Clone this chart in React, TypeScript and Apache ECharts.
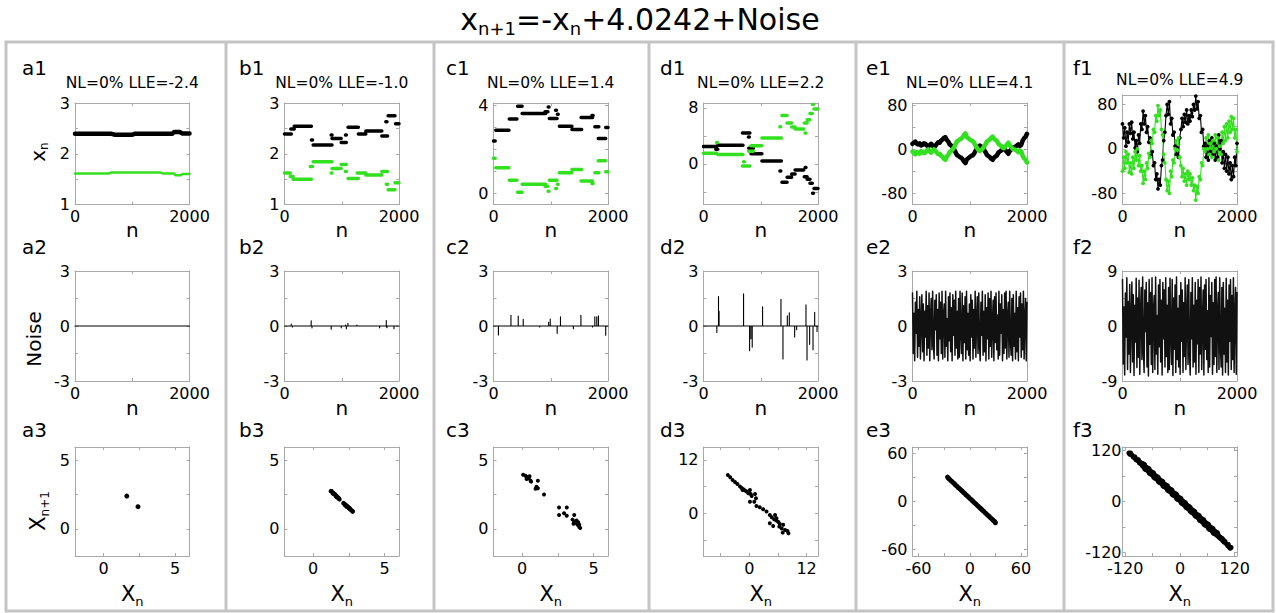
import React, { useEffect, useRef } from 'react';
import * as echarts from 'echarts';

// ================= DATA =================
const TITLE_TEXT = 'x{s|n+1}=-x{s|n}+4.0242+Noise';
const SUBTITLES = ['NL=0% LLE=-2.4', 'NL=0% LLE=-1.0', 'NL=0% LLE=1.4', 'NL=0% LLE=2.2', 'NL=0% LLE=4.1', 'NL=0% LLE=4.9'];
const COL_KEYS = ['a', 'b', 'c', 'd', 'e', 'f'];

// tick values / tick labels
const TS_X_TICKS = [0, 1000, 2000];
const TS_X_LABELS = [0, 2000];
const A1_Y_TICKS = [1, 1.5, 2, 2.5, 3];
const A1_Y_LABELS = [1, 2, 3];
const C1_Y_TICKS = [0, 1, 2, 3, 4];
const C1_Y_LABELS = [0, 4];
const D1_Y_TICKS = [-4, 0, 4, 8];
const D1_Y_LABELS = [0, 8];
const E1_Y_TICKS = [-80, -40, 0, 40, 80];
const E1_Y_LABELS = [-80, 0, 80];
const NOISE_Y_TICKS = [-3, -1.5, 0, 1.5, 3];
const NOISE_Y_LABELS = [-3, 0, 3];
const F2_Y_TICKS = [-9, -4.5, 0, 4.5, 9];
const F2_Y_LABELS = [-9, 0, 9];
const MAP_TICKS = [0, 2.5, 5];
const MAP_LABELS = [0, 5];
const D3_TICKS = [-6, 0, 6, 12];
const D3_LABELS = [0, 12];
const E3_TICKS = [-60, -30, 0, 30, 60];
const E3_LABELS = [-60, 0, 60];
const F3_TICKS = [-120, -60, 0, 60, 120];
const F3_LABELS = [-120, 0, 120];

// row 1 : time series  ([n, value] or runs [nStart, nEnd, value])
const a1Black = [[0, 2.393], [640, 2.393], [700, 2.375], [1000, 2.375], [1040, 2.393], [1700, 2.393], [1730, 2.428], [1830, 2.428], [1870, 2.40], [2000, 2.40]];
const a1Green = [[0, 1.613], [600, 1.613], [640, 1.633], [1480, 1.633], [1540, 1.612], [1730, 1.612], [1760, 1.575], [1850, 1.578], [1880, 1.60], [2000, 1.60]];

const b1BlackRuns = [[0, 120, 2.39], [110, 170, 2.49], [170, 470, 2.54], [470, 490, 2.27], [500, 830, 2.17], [815, 830, 2.37], [830, 990, 2.30], [990, 1080, 2.22], [1065, 1080, 2.37], [1110, 1290, 2.52], [1290, 1420, 2.39], [1420, 1700, 2.45], [1700, 1800, 2.35], [1770, 1790, 2.63], [1810, 1930, 2.75], [1940, 2000, 2.59]];
const b1GreenRuns = [[0, 100, 1.62], [100, 150, 1.55], [150, 470, 1.50], [450, 490, 1.75], [500, 830, 1.84], [815, 830, 1.62], [830, 990, 1.71], [990, 1080, 1.79], [1065, 1080, 1.65], [1110, 1290, 1.51], [1270, 1420, 1.62], [1420, 1700, 1.58], [1700, 1800, 1.65], [1780, 1800, 1.40], [1810, 1930, 1.29], [1930, 2000, 1.43]];

const c1BlackRuns = [[0, 30, 2.38], [40, 270, 2.87], [275, 410, 3.38], [420, 500, 3.95], [500, 910, 3.62], [900, 950, 3.70], [955, 970, 3.92], [975, 1110, 3.40], [1085, 1100, 3.77], [1115, 1130, 3.59], [1150, 1370, 3.05], [1370, 1540, 2.90], [1530, 1730, 3.44], [1720, 1740, 3.53], [1770, 1840, 3.02], [1830, 1960, 2.49], [1960, 2000, 2.99]];
const c1GreenRuns = [[0, 30, 1.60], [40, 270, 1.16], [275, 410, 0.60], [420, 500, 0.06], [500, 910, 0.42], [900, 950, 0.33], [955, 970, 0.10], [975, 1110, 0.60], [1085, 1100, 0.23], [1115, 1130, 0.42], [1150, 1370, 0.94], [1370, 1540, 1.09], [1530, 1730, 0.57], [1720, 1740, 0.45], [1770, 1840, 0.94], [1830, 1960, 1.48], [1960, 2000, 0.98]];

const d1BlackRuns = [[0, 230, 2.49], [215, 250, 2.10], [230, 240, 1.15], [250, 690, 2.68], [680, 810, 4.40], [785, 800, 3.83], [790, 870, 2.25], [830, 1020, 1.44], [1020, 1360, 0.43], [1335, 1350, -1.00], [1370, 1460, -2.63], [1460, 1540, -1.92], [1540, 1600, -1.44], [1600, 1750, -0.86], [1775, 1790, -0.53], [1760, 1810, -1.82], [1810, 1860, -2.20], [1860, 1900, -2.78], [1905, 1920, -4.20], [1930, 2000, -3.50]];
const d1GreenRuns = [[0, 230, 1.53], [230, 245, 3.07], [250, 690, 1.34], [680, 810, -0.29], [700, 715, 0.30], [790, 870, 1.80], [830, 1020, 2.59], [1020, 1360, 3.69], [1335, 1350, 5.30], [1370, 1460, 6.90], [1460, 1540, 5.84], [1540, 1600, 5.27], [1600, 1750, 4.98], [1775, 1790, 4.40], [1760, 1810, 5.84], [1810, 1860, 6.30], [1860, 1900, 7.20], [1905, 1920, 8.50], [1930, 2000, 7.86]];

// e1: values every 25 steps of n (0..2000)
const e1Black = [10, 12, 14, 10, 9, 11, 7, 8, 11, 10, 7, 5, 8, 10, 7, 4, 6, 10, 13, 12, 16, 18, 21, 22, 17, 14, 9, 7, 4, 1, -5, -10, -12, -14, -15, -18, -22, -25, -18, -16, -14, -12, -11, -8, -3, 1, 5, 7, 5, 3, -1, -5, -10, -12, -14, -17, -19, -15, -13, -11, -6, -4, -2, 1, 2, -2, -5, -8, -3, 0, 3, 4, 5, 7, 9, 6, 8, 16, 20, 23, 28];
const e1Green = [-4, -7, -9, -5, -6, -8, -3, -5, -7, -6, -2, 0, -4, -6, -3, 0, -2, -6, -9, -8, -12, -14, -17, -19, -13, -10, -5, -3, 0, 3, 9, 14, 16, 18, 19, 22, 26, 29, 22, 20, 18, 16, 15, 12, 7, 3, -1, -3, -1, 1, 5, 9, 14, 16, 18, 21, 23, 19, 17, 15, 10, 8, 6, 3, 2, 6, 9, 12, 7, 4, 1, 0, -1, -3, -5, -2, -4, -12, -16, -19, -24];

// f1: values every 20 steps of n (0..2000)
const f1Black = [45, 20, 38, 5, 30, 12, 45, 28, 48, 18, 30, 2, 15, -5, 25, 10, 45, 35, 68, 45, 60, 30, 40, 12, 20, -10, -5, -30, -25, -55, -45, -72, -55, -65, -30, -20, 15, 30, 60, 80, 62, 85, 45, 55, 25, 30, 5, -10, 2, -15, 20, 35, 55, 40, 62, 48, 70, 45, 60, 50, 70, 58, 80, 70, 95, 72, 85, 55, 60, 30, 35, 5, 10, -15, 5, -20, 15, -5, 20, -10, 10, -20, 5, -15, 25, 0, 15, -25, -5, -35, -10, -40, -15, -45, -25, -55, -30, -50, -15, -30, 10];
const f1Green = [-40, -15, -35, -5, -25, -10, -42, -25, -45, -15, -35, -5, -20, 0, -30, -12, -40, -30, -62, -40, -55, -25, -35, -8, -15, 15, 10, 35, 30, 60, 50, 78, 60, 70, 35, 25, -10, -25, -55, -75, -58, -80, -40, -50, -20, -25, 0, 15, -2, 20, -15, -30, -50, -35, -58, -45, -65, -40, -55, -45, -65, -52, -75, -65, -92, -68, -80, -50, -55, -25, -30, 0, -5, 20, 0, 25, -10, 10, -15, 15, -5, 25, 0, 20, -20, 5, -10, 30, 10, 40, 15, 45, 20, 50, 30, 58, 35, 55, 20, 35, -5];

// row 2 : noise spikes (n, value)
const a2SpikeN: number[] = [];
const a2SpikeV: number[] = [];
const b2SpikeN = [117, 140, 466, 480, 816, 991, 1067, 1080, 1108, 1265, 1661, 1778, 1790, 1912];
const b2SpikeV = [0.1, -0.05, 0.29, -0.1, -0.18, -0.1, 0.05, -0.15, 0.15, 0.05, -0.1, 0.3, -0.1, -0.15];
const c2SpikeN = [86, 305, 432, 519, 807, 963, 991, 1112, 1170, 1395, 1527, 1729, 1770, 1804, 1833, 1960];
const c2SpikeV = [-0.49, 0.58, 0.54, 0.36, -0.05, 0.2, 0.38, -0.4, 0.5, -0.15, 0.58, -0.05, 0.5, 0.5, 0.55, -0.5];
const d2SpikeN = [233, 262, 272, 700, 805, 828, 851, 1032, 1353, 1388, 1464, 1499, 1592, 1627, 1790, 1808, 1854, 1913, 1942, 1983];
const d2SpikeV = [-0.35, 1.6, 0.8, 1.75, -1.35, -0.7, -1.15, 1.05, 1.45, -1.8, 0.55, 0.72, -0.6, -0.2, 1.15, -1.85, -1.0, -1.3, 0.75, -0.3];
// dense noise (evenly spread over n = 0..2000)
const e2Noise = [1.8, -1.5, 0.7, -1.9, 1.3, -0.4, 1.9, -1.7, 0.9, -1.1, 1.6, -1.8, 0.3, 1.7, -1.4, 1.2, -1.9, 0.8, -0.6, 1.9,
  -1.6, 1.1, -1.2, 1.8, -1.9, 0.5, 1.5, -1.3, 1.9, -0.9, -1.8, 1.4, -0.2, 1.7, -1.6, 0.9, -1.9, 1.8, -0.7, 1.3,
  -1.5, 1.9, -1.8, 0.6, 1.2, -1.7, 1.9, -1.1, 0.4, -1.9, 1.6, -0.8, 1.8, -1.4, 1.0, -1.9, 1.7, -0.5, 1.4, -1.6,
  1.9, -1.2, 0.8, -1.8, 1.5, -1.7, 1.9, -0.3, -1.5, 1.8, -1.9, 1.1, -0.9, 1.6, -1.8, 1.9, -1.3, 0.7, -1.6, 1.2,
  -1.9, 1.7, -0.6, 1.4, -1.8, 0.9, -1.2, 1.9, -1.7, 0.4, 1.6, -1.5, 1.8, -1.0, -1.9, 1.3, -0.5, 1.9, -1.6, 0.8,
  -1.4, 1.7, -1.9, 1.0, -0.7, 1.8, -1.8, 1.5, -1.1, 1.9, -1.7, 0.2, 1.4, -1.9, 1.6, -0.9, 1.8, -1.3, 0.6, -1.8,
  1.9, -1.6, 1.2, -0.4, 1.7, -1.9, 0.9, -1.5, 1.8, -1.2, 1.9, -1.8, 0.5, 1.3, -1.7, 1.9, -0.8, -1.6, 1.5, -1.9,
  1.7, -1.1, 0.7, -1.8, 1.9, -1.4, 1.0, -1.9, 1.6, -0.6, 1.8, -1.7, 1.2, -1.3, 1.9, -1.8, 0.4, 1.5, -1.9, 1.3];
const f2Noise = [7.6, -6.2, 3.1, -8.0, 5.4, -1.8, 7.9, -7.1, 4.0, -4.6, 6.8, -7.6, 1.2, 7.2, -5.9, 5.1, -8.1, 3.4, -2.6, 7.8,
  -6.8, 4.6, -5.1, 7.5, -7.9, 2.1, 6.3, -5.5, 8.0, -3.8, -7.6, 5.9, -0.9, 7.1, -6.7, 3.8, -8.2, 7.6, -3.0, 5.5,
  -6.3, 7.9, -7.6, 2.5, 5.0, -7.1, 8.0, -4.6, 1.7, -7.9, 6.7, -3.4, 7.6, -5.9, 4.2, -8.0, 7.1, -2.1, 5.9, -6.7,
  7.9, -5.0, 3.4, -7.6, 6.3, -7.1, 7.8, -1.3, -6.3, 7.6, -8.1, 4.6, -3.8, 6.7, -7.6, 8.0, -5.5, 2.9, -6.7, 5.0,
  -7.9, 7.1, -2.5, 5.9, -7.6, 3.8, -5.0, 7.9, -7.1, 1.7, 6.7, -6.3, 7.6, -4.2, -8.0, 5.5, -2.1, 7.9, -6.7, 3.4,
  -5.9, 7.1, -7.9, 4.2, -2.9, 7.6, -7.6, 6.3, -4.6, 8.0, -7.1, 0.8, 5.9, -8.0, 6.7, -3.8, 7.6, -5.5, 2.5, -7.6,
  7.9, -6.7, 5.0, -1.7, 7.1, -7.9, 3.8, -6.3, 7.6, -5.0, 8.0, -7.6, 2.1, 5.5, -7.1, 7.9, -3.4, -6.7, 6.3, -8.0,
  7.1, -4.6, 2.9, -7.6, 7.8, -5.9, 4.2, -8.0, 6.7, -2.5, 7.6, -7.1, 5.0, -5.5, 7.9, -7.6, 1.7, 6.3, -7.9, 5.5];

// row 3 : return maps [x_n, x_n+1]
const a3Points = [[1.62, 2.40], [2.40, 1.62]];
const b3Points = [[1.62, 2.39], [2.39, 1.62], [1.55, 2.49], [2.49, 1.55], [1.50, 2.54], [2.54, 1.50], [1.75, 2.27], [2.27, 1.75], [1.84, 2.17], [2.17, 1.84], [1.62, 2.37], [2.37, 1.62], [1.71, 2.30], [2.30, 1.71], [1.79, 2.22], [2.22, 1.79], [1.65, 2.37], [2.37, 1.65], [1.51, 2.52], [2.52, 1.51], [1.58, 2.45], [2.45, 1.58], [1.65, 2.35], [2.35, 1.65], [1.40, 2.63], [2.63, 1.40], [1.29, 2.75], [2.75, 1.29], [1.43, 2.59], [2.59, 1.43], [1.24, 2.76], [2.76, 1.27], [1.38, 2.60], [1.66, 2.36], [2.12, 1.88], [2.24, 1.73]];
const c3Points = [[0.07, 3.97], [0.23, 3.89], [0.35, 3.80], [0.31, 3.65], [0.47, 3.70], [0.59, 3.53], [0.63, 3.46], [0.52, 3.85], [1.10, 3.53], [1.00, 3.08], [1.10, 2.98], [0.94, 2.93], [1.53, 2.52], [2.58, 1.56], [3.12, 1.56], [2.58, 1.01], [2.93, 1.13], [3.12, 0.96], [3.64, 1.01], [3.52, 0.67], [3.64, 0.53], [3.76, 0.43], [3.87, 0.29], [3.99, 0.12], [3.80, 0.60], [3.59, 0.36], [3.92, 0.48], [3.99, 0.29], [4.06, 0.05]];
const d3Points = [[-4.5, 8.6], [-4.0, 8.1], [-3.5, 7.5], [-3.0, 7.05], [-2.5, 6.6], [-1.95, 6.0], [-1.6, 5.7], [-1.25, 5.4], [-0.9, 5.1], [-0.55, 4.9], [-1.4, 5.25], [-0.2, 4.5], [0.14, 5.25], [0.28, 4.35], [0.5, 3.9], [0.14, 2.6], [1.2, 4.35], [1.4, 3.4], [1.05, 2.6], [1.5, 1.65], [2.2, 1.35], [2.9, 0.9], [3.6, 0.4], [4.3, -0.4], [4.7, -0.9], [5.2, -1.35], [5.4, -0.4], [5.7, -1.65], [6.1, -1.95], [6.4, -2.4], [4.3, -2.25], [5.0, -2.85], [6.3, -3.0], [6.8, -3.4], [7.0, -4.35], [7.5, -3.75], [8.0, -4.0], [8.2, -4.5], [5.7, -1.1], [7.1, -2.6]];
const e3Points = [[-26, 30.5], [-25, 29], [-24, 28.3], [-22.5, 26.4], [-21, 25.2], [-19.5, 23.6], [-18, 22.1], [-16.5, 20.4], [-15, 19.2], [-13.5, 17.3], [-12, 16.1], [-10.5, 14.6], [-9, 13.1], [-7.5, 11.4], [-6, 10.2], [-4.5, 8.4], [-3, 7.1], [-1.5, 5.6], [0, 3.9], [1.5, 2.6], [3, 0.9], [4.5, -0.4], [6, -2.1], [7.5, -3.4], [9, -5.1], [10.5, -6.4], [12, -8.1], [13.5, -9.4], [15, -11.1], [16.5, -12.4], [18, -14.1], [19.5, -15.4], [21, -17.1], [22.5, -18.4], [24, -20.1], [25.5, -21.4], [27, -23.1], [28.5, -24.4], [29.5, -25.6], [30, -26.5]];
const f3Core = [[-80, 85], [-75, 78], [-70, 75], [-65, 68], [-60, 65], [-55, 58], [-50, 55], [-45, 48], [-40, 45], [-35, 38], [-30, 35], [-25, 28], [-20, 25], [-15, 18], [-10, 15], [-5, 8], [0, 5], [5, -2], [10, -5], [15, -12], [20, -15], [25, -22], [30, -25], [35, -32], [40, -35], [45, -42], [50, -45], [55, -52], [60, -55], [65, -62], [70, -65], [75, -72], [80, -75]];
const f3Mid = [[-100, 104], [-96, 99], [-92, 97], [-88, 91], [-84, 89], [84, -81], [88, -85], [92, -88], [95, -92], [98, -95]];
const f3Edge = [[-112, 114], [-110, 111], [-108, 114], [-106, 110], [-103, 105], [102, -100], [105, -104], [106, -101], [108, -107], [110, -110], [112, -108]];

// ================= STYLE / LAYOUT =================
const FONT = 'DejaVu Sans';
const BLACK = '#000000';
const GREEN = '#33e01f';
const AXIS = '#a8a8a8';
const FRAME = '#c4c4c4';
const LEFTS = [75, 284.5, 493.5, 703.5, 912.5, 1122.5];
const LABEL_X = [22, 239, 446, 660, 866, 1073];
const PW = 114.5;

function runsData(runs: number[][]) {
  const out: any[] = [];
  runs.forEach(([s, e, v]) => { out.push([s, v], [e, v], [e, '-']); });
  return out;
}
function spikesData(ns: number[], vs: number[]) {
  const out: any[] = [[0, 0]];
  ns.forEach((n, i) => { out.push([n, 0], [n, vs[i]], [n, 0]); });
  out.push([2000, 0]);
  return out;
}
function seqData(vals: number[]) {
  return vals.map((v, i) => [(i * 2000) / (vals.length - 1), v]);
}
function line(data: any[], color: string, width: number) {
  return { type: 'line', data, symbol: 'none', showSymbol: false, connectNulls: false, silent: true,
    lineStyle: { color, width, cap: 'round', join: 'round' } };
}
function dotLine(data: any[], color: string) {
  return { type: 'line', data, symbol: 'circle', symbolSize: 3.8, showSymbol: true, silent: true,
    itemStyle: { color, opacity: 1 }, lineStyle: { color, width: 1.1 } };
}
function scatter(data: any[], size: number) {
  return { type: 'scatter', data, symbolSize: size, silent: true, itemStyle: { color: BLACK, opacity: 1 } };
}

type Panel = {
  left: number; top: number; height: number;
  x: [number, number]; xt: number[]; xl: number[];
  y: [number, number]; yt: number[]; yl: number[];
  ylm?: number;
  series: any[];
};

function buildOption() {
  const R1T = 103, R1H = 101.5, R2T = 271, R2H = 110, R3T = 447, R3H = 109;
  const ts = (i: number, y: [number, number], yt: number[], yl: number[], series: any[], top = R1T, h = R1H): Panel =>
    ({ left: LEFTS[i], top, height: h, x: [0, 2000], xt: TS_X_TICKS, xl: TS_X_LABELS, y, yt, yl, series });
  const panels: Panel[] = [
    ts(0, [1, 3], A1_Y_TICKS, A1_Y_LABELS, [line(a1Black, BLACK, 4.5), line(a1Green, GREEN, 2.5)]),
    ts(1, [1, 3], A1_Y_TICKS, A1_Y_LABELS, [line(runsData(b1BlackRuns), BLACK, 3.5), line(runsData(b1GreenRuns), GREEN, 3.5)]),
    ts(2, [-0.5, 4.1], C1_Y_TICKS, C1_Y_LABELS, [line(runsData(c1BlackRuns), BLACK, 3.5), line(runsData(c1GreenRuns), GREEN, 3.5)]),
    ts(3, [-5.8, 8.7], D1_Y_TICKS, D1_Y_LABELS, [line(runsData(d1BlackRuns), BLACK, 3.5), line(runsData(d1GreenRuns), GREEN, 3.5)]),
    ts(4, [-100, 84], E1_Y_TICKS, E1_Y_LABELS, [line(seqData(e1Black), BLACK, 4.5), line(seqData(e1Green), GREEN, 4.5)]),
    ts(5, [-100, 97], E1_Y_TICKS, E1_Y_LABELS, [dotLine(seqData(f1Black), BLACK), dotLine(seqData(f1Green), GREEN)], 95, 109.5),
    ts(0, [-3, 3], NOISE_Y_TICKS, NOISE_Y_LABELS, [line(spikesData(a2SpikeN, a2SpikeV), BLACK, 1.2)], R2T, R2H),
    ts(1, [-3, 3], NOISE_Y_TICKS, NOISE_Y_LABELS, [line(spikesData(b2SpikeN, b2SpikeV), BLACK, 1.1)], R2T, R2H),
    ts(2, [-3, 3], NOISE_Y_TICKS, NOISE_Y_LABELS, [line(spikesData(c2SpikeN, c2SpikeV), BLACK, 1.1)], R2T, R2H),
    ts(3, [-3, 3], NOISE_Y_TICKS, NOISE_Y_LABELS, [line(spikesData(d2SpikeN, d2SpikeV), BLACK, 1.1)], R2T, R2H),
    ts(4, [-3, 3], NOISE_Y_TICKS, NOISE_Y_LABELS, [line(seqData(e2Noise), '#111111', 1.5)], R2T, R2H),
    ts(5, [-9, 9], F2_Y_TICKS, F2_Y_LABELS, [line(seqData(f2Noise), '#111111', 1.5)], R2T, R2H),
    { left: LEFTS[0], top: R3T, height: R3H, x: [-2, 6], xt: MAP_TICKS, xl: MAP_LABELS, y: [-2, 6], yt: MAP_TICKS, yl: MAP_LABELS, series: [scatter(a3Points, 5)] },
    { left: LEFTS[1], top: R3T, height: R3H, x: [-2, 6], xt: MAP_TICKS, xl: MAP_LABELS, y: [-2, 6], yt: MAP_TICKS, yl: MAP_LABELS, series: [scatter(b3Points, 4.5)] },
    { left: LEFTS[2], top: R3T, height: R3H, x: [-2, 6], xt: MAP_TICKS, xl: MAP_LABELS, y: [-2, 6], yt: MAP_TICKS, yl: MAP_LABELS, series: [scatter(c3Points, 4)] },
    { left: LEFTS[3], top: R3T, height: R3H, x: [-9.6, 14.4], xt: D3_TICKS, xl: D3_LABELS, y: [-9.6, 14.9], yt: D3_TICKS, yl: D3_LABELS, series: [scatter(d3Points, 4)] },
    { left: LEFTS[4], top: R3T, height: R3H, x: [-67, 67], xt: E3_TICKS, xl: E3_LABELS, y: [-68, 68], yt: E3_TICKS, yl: E3_LABELS, series: [scatter(e3Points, 5)] },
    { left: LEFTS[5], top: R3T, height: R3H, x: [-126, 125], xt: F3_TICKS, xl: F3_LABELS, y: [-128, 128], yt: F3_TICKS, yl: F3_LABELS, ylm: 1,
      series: [scatter(f3Core, 7.5), scatter(f3Mid, 6), scatter(f3Edge, 5)] },
  ];

  const grid: any[] = [], xAxis: any[] = [], yAxis: any[] = [], series: any[] = [];
  const axisLine = { show: true, onZero: false, lineStyle: { color: AXIS, width: 1 } };
  const tick = (vals: number[]) => ({ show: true, inside: true, length: 3, customValues: vals, lineStyle: { color: AXIS, width: 1 } });
  const label = (vals: number[], margin: number) => ({ show: true, customValues: vals, color: BLACK, fontFamily: FONT, fontSize: 16, margin,
    formatter: (v: number) => String(v) });
  panels.forEach((p, i) => {
    grid.push({ left: p.left, top: p.top, width: PW, height: p.height, containLabel: false });
    const base = { type: 'value', gridIndex: i, splitLine: { show: false }, axisLine, silent: true };
    xAxis.push({ ...base, position: 'bottom', min: p.x[0], max: p.x[1], axisTick: tick(p.xt), axisLabel: label(p.xl, 4) });
    xAxis.push({ ...base, position: 'top', min: p.x[0], max: p.x[1], axisTick: tick(p.xt), axisLabel: { show: false } });
    yAxis.push({ ...base, position: 'left', min: p.y[0], max: p.y[1], axisTick: tick(p.yt), axisLabel: label(p.yl, p.ylm ?? 5) });
    yAxis.push({ ...base, position: 'right', min: p.y[0], max: p.y[1], axisTick: tick(p.yt), axisLabel: { show: false } });
    p.series.forEach((s) => series.push({ ...s, xAxisIndex: 2 * i, yAxisIndex: 2 * i }));
  });

  const txt = (x: number, y: number, text: string, size: number, align = 'center', extra: any = {}) => ({
    type: 'text', x, y, silent: true, ...extra,
    style: { text, fill: BLACK, fontFamily: FONT, fontSize: size, align, textAlign: align, verticalAlign: 'middle', textVerticalAlign: 'middle', ...(extra.style || {}) },
  });
  const graphic: any[] = [];
  graphic.push({ type: 'rect', silent: true, shape: { x: 6, y: 42, width: 1267, height: 569 }, style: { fill: 'none', stroke: FRAME, lineWidth: 3 } });
  [226, 434, 649, 856, 1064].forEach((x) => graphic.push({ type: 'line', silent: true, shape: { x1: x, y1: 42, x2: x, y2: 611 }, style: { stroke: FRAME, lineWidth: 3 } }));
  graphic.push(txt(640, 19, TITLE_TEXT, 30, 'center', { style: { rich: { s: { fontSize: 18, fontFamily: FONT, fill: BLACK, padding: [18, 0, 0, 0] } } } }));
  SUBTITLES.forEach((s, i) => graphic.push(txt(LEFTS[i] + PW / 2, i === 5 ? 80 : 83, s, 15.5)));
  COL_KEYS.forEach((k, i) => {
    graphic.push(txt(LABEL_X[i], 68, k + '1', 20, 'left'));
    graphic.push(txt(LABEL_X[i], 247, k + '2', 20, 'left'));
    graphic.push(txt(LABEL_X[i], 430, k + '3', 20, 'left'));
    const cx = LEFTS[i] + PW / 2;
    graphic.push(txt(cx, 230, 'n', 20));
    graphic.push(txt(cx, 408, 'n', 20));
    graphic.push(txt(cx, 594, 'X{s|n}', 21, 'center', { style: { rich: { s: { fontSize: 13, fontFamily: FONT, fill: BLACK, padding: [14, 0, 0, 0] } } } }));
  });
  graphic.push(txt(38, 152, 'x{s|n}', 20, 'center', { rotation: Math.PI / 2, style: { rich: { s: { fontSize: 12, fontFamily: FONT, fill: BLACK, padding: [12, 0, 0, 0] } } } }));
  graphic.push(txt(34, 339, 'Noise', 20, 'center', { rotation: Math.PI / 2 }));
  graphic.push(txt(38, 511, 'X{s|n+1}', 21, 'center', { rotation: Math.PI / 2, style: { rich: { s: { fontSize: 12, fontFamily: FONT, fill: BLACK, padding: [14, 0, 0, 0] } } } }));

  return { animation: false, backgroundColor: '#ffffff', grid, xAxis, yAxis, series, graphic };
}

export default function App() {
  const ref = useRef<HTMLDivElement>(null);
  useEffect(() => {
    if (!ref.current) return;
    const chart = echarts.init(ref.current, null, { renderer: 'svg', width: 1276, height: 613 });
    chart.setOption(buildOption() as any);
    return () => chart.dispose();
  }, []);
  return <div ref={ref} style={{ position: 'absolute', left: 0, top: 0, width: 1276, height: 613, background: '#fff' }} />;
}
